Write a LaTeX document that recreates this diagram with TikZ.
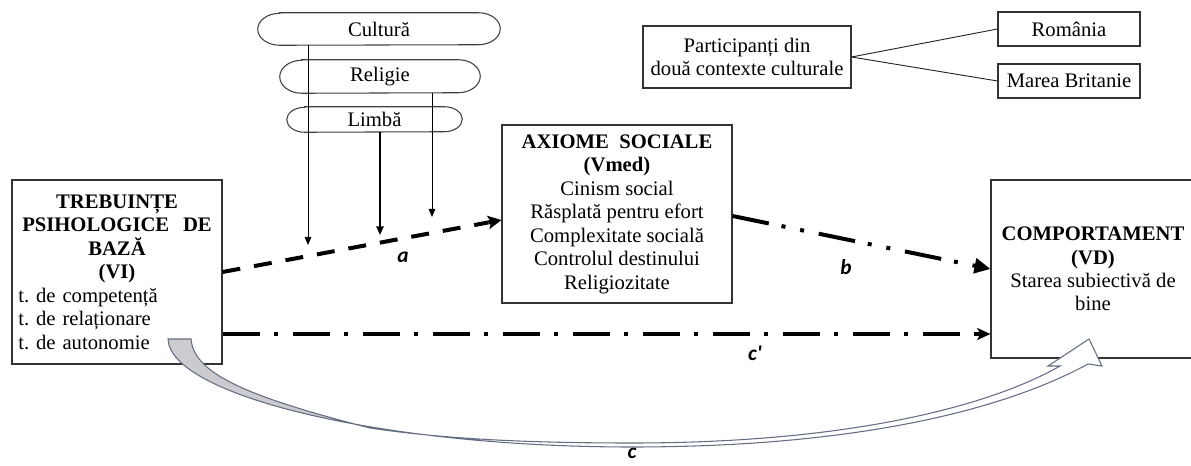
\documentclass[tikz,border=0pt]{standalone}
\usepackage{fontspec}
\setmainfont{Liberation Serif}
\newfontfamily\labfont{Carlito}
\usetikzlibrary{arrows.meta,calc}
\definecolor{bandline}{RGB}{100,110,130}
\definecolor{bandgray}{RGB}{204,204,208}
\begin{document}
\begin{tikzpicture}[x=0.75pt,y=-0.75pt,
  txt/.style={font=\fontsize{15.5}{17.6}\selectfont},
  box/.style={draw=black!80, line width=0.8pt, fill=white, inner sep=0pt, txt},
  capnode/.style={inner sep=0pt, txt},
  capline/.style={draw=black!75, line width=0.8pt},
  lab/.style={font=\labfont\bfseries\itshape\fontsize{16}{18}\selectfont, inner sep=0pt},
  vline/.style={draw=black, line width=0.6pt, -{Triangle[length=6pt,width=5pt]}},
  vthick/.style={draw=black, line width=1.4pt, -{Triangle[length=6.5pt,width=5.5pt]}},
  aline/.style={line width=3pt, dash pattern=on 13.5pt off 10.5pt},
  bline/.style={line width=3pt, dash pattern=on 27.75pt off 9.75pt on 3pt off 11.25pt on 3pt off 11.25pt},
  cline/.style={line width=3pt, dash pattern=on 27.75pt off 10.5pt on 3pt off 11.25pt},
  atip/.style={line width=3pt, solid, -{Stealth[length=10pt,width=10pt,inset=2pt]}},
  btip/.style={line width=3pt, solid, -{Stealth[length=12pt,width=11pt,inset=0pt]}},
  ctip/.style={line width=3pt, solid, -{Stealth[length=10pt,width=9pt,inset=2.5pt]}},
  band/.style={draw=bandline, line width=0.8pt},
  thinline/.style={draw=black!85, line width=0.7pt}
]
\useasboundingbox (0,0) rectangle (1191,466);

% capsules
\node[capnode, minimum width=181.5pt, minimum height=24pt] (cul) at (379,29) {Cultură};
\node[capnode, minimum width=150pt, minimum height=24.75pt] (rel) at (380,76.5) {Religie};
\node[capnode, minimum width=131.25pt, minimum height=18.75pt] (lim) at (374.5,119.5) {Limbă};
\draw[capline] ($(cul.north west)+(22,0)$) -- ($(cul.north east)+(-22,0)$)
  arc[start angle=90,end angle=-90,x radius=16.5pt,y radius=12pt]
  -- ($(cul.south west)+(22,0)$) arc[start angle=270,end angle=90,x radius=16.5pt,y radius=12pt] -- cycle;
\draw[capline] ($(rel.north west)+(22,0)$) -- ($(rel.north east)+(-22,0)$)
  arc[start angle=90,end angle=-90,x radius=16.5pt,y radius=12.375pt]
  -- ($(rel.south west)+(22,0)$) arc[start angle=270,end angle=90,x radius=16.5pt,y radius=12.375pt] -- cycle;
\draw[capline] ($(lim.north west)+(18,0)$) -- ($(lim.north east)+(-18,0)$)
  arc[start angle=90,end angle=-90,x radius=13.5pt,y radius=9.375pt]
  -- ($(lim.south west)+(18,0)$) arc[start angle=270,end angle=90,x radius=13.5pt,y radius=9.375pt] -- cycle;

% main boxes
\node[box, text width=148pt, inner xsep=4.75pt, minimum height=138pt] (vi) at (117,272)
  {{\centering\bfseries TREBUINȚE\\PSIHOLOGICE\ \ DE\\BAZĂ\\(VI)\par}\noindent\raggedright t.\ de competență\\t.\ de relaționare\\t.\ de autonomie};
\node[box, align=center, minimum width=172.5pt, minimum height=133.5pt] (ax) at (617,214)
  {\textbf{AXIOME\ \ SOCIALE}\\\textbf{(Vmed)}\\Cinism social\\Răsplată pentru efort\\Complexitate socială\\Controlul destinului\\Religiozitate};
\node[box, align=center, minimum width=153pt, minimum height=133.5pt] (vd) at (1093,269)
  {\textbf{COMPORTAMENT}\\\textbf{(VD)}\\Starea subiectivă de\\bine};

% participants
\node[box, align=center, minimum width=156pt, minimum height=46.5pt] (part) at (747,57)
  {Participanți din\\două contexte culturale};
\node[box, minimum width=106.5pt, minimum height=25.5pt] (rom) at (1069,29) {România};
\node[box, minimum width=106.5pt, minimum height=25.5pt] (mb) at (1069,81) {Marea Britanie};
\draw[thinline] (part.east) -- (rom.west);
\draw[thinline] (part.east) -- (mb.west);

% moderator lines
\coordinate (p1) at (308,245);
\coordinate (p2) at (380,235);
\coordinate (p3) at (432,217);
\draw[vline] (cul.south -| p1) -- (p1);
\draw[vline] (rel.south -| p3) -- (p3);
\draw[vthick] (lim.south -| p2) -- (p2);

% path a
\coordinate (as) at (vi.east);
\coordinate (at) at ($(ax.west)+(0,6)$);
\coordinate (ab) at ($(at)!10pt!(as)$);
\draw[aline] (as) -- (ab);
\draw[atip] (ab) -- (at);
% path b
\coordinate (bs) at ($(ax.east)+(0,2)$);
\coordinate (bt) at (vd.west);
\coordinate (bb) at ($(bt)!12pt!(bs)$);
\draw[bline] (bs) -- (bb);
\draw[btip] (bb) -- (bt);
% path c'
\coordinate (cy) at (0,334);
\coordinate (cs) at (vi.east |- cy);
\coordinate (ct) at (vd.west |- cy);
\coordinate (cb) at ($(ct)!10pt!(cs)$);
\draw[cline] (cs) -- (cb);
\draw[ctip] (cb) -- (ct);

\node[lab] (la) at (403,257) {a};
\node[lab] (lb) at (846,267) {b};
\node[lab] (lc1) at (755,353) {c'};
\node[lab] (lc) at (632,453) {c};

% curved arrow c
\fill[white] (168,339) .. controls (170,395) and (380,447) .. (632,447) .. controls (850,447) and (1000,412) .. (1088,364) -- (1102,366) -- (1089,339) -- (1048,366) -- (1060,366) .. controls (990,406) and (850,443) .. (632,443) .. controls (540,443) and (450,440) .. (370,428) .. controls (240,395) and (194,372) .. (191,339) -- cycle;
\begin{scope}
\clip (168,339) .. controls (170,395) and (380,447) .. (632,447) .. controls (850,447) and (1000,412) .. (1088,364) -- (1102,366) -- (1089,339) -- (1048,366) -- (1060,366) .. controls (990,406) and (850,443) .. (632,443) .. controls (540,443) and (450,440) .. (370,428) .. controls (240,395) and (194,372) .. (191,339) -- cycle;
\fill[bandgray] (150,330) -- (191,330) -- (191,339) .. controls (194,372) and (240,395) .. (370,428) -- (380,470) -- (150,470) -- cycle;
\end{scope}
\draw[band] (168,339) .. controls (170,395) and (380,447) .. (632,447) .. controls (850,447) and (1000,412) .. (1088,364) -- (1102,366) -- (1089,339) -- (1048,366) -- (1060,366) .. controls (990,406) and (850,443) .. (632,443) .. controls (540,443) and (450,440) .. (370,428) .. controls (240,395) and (194,372) .. (191,339) -- cycle;
\end{tikzpicture}
\end{document}
